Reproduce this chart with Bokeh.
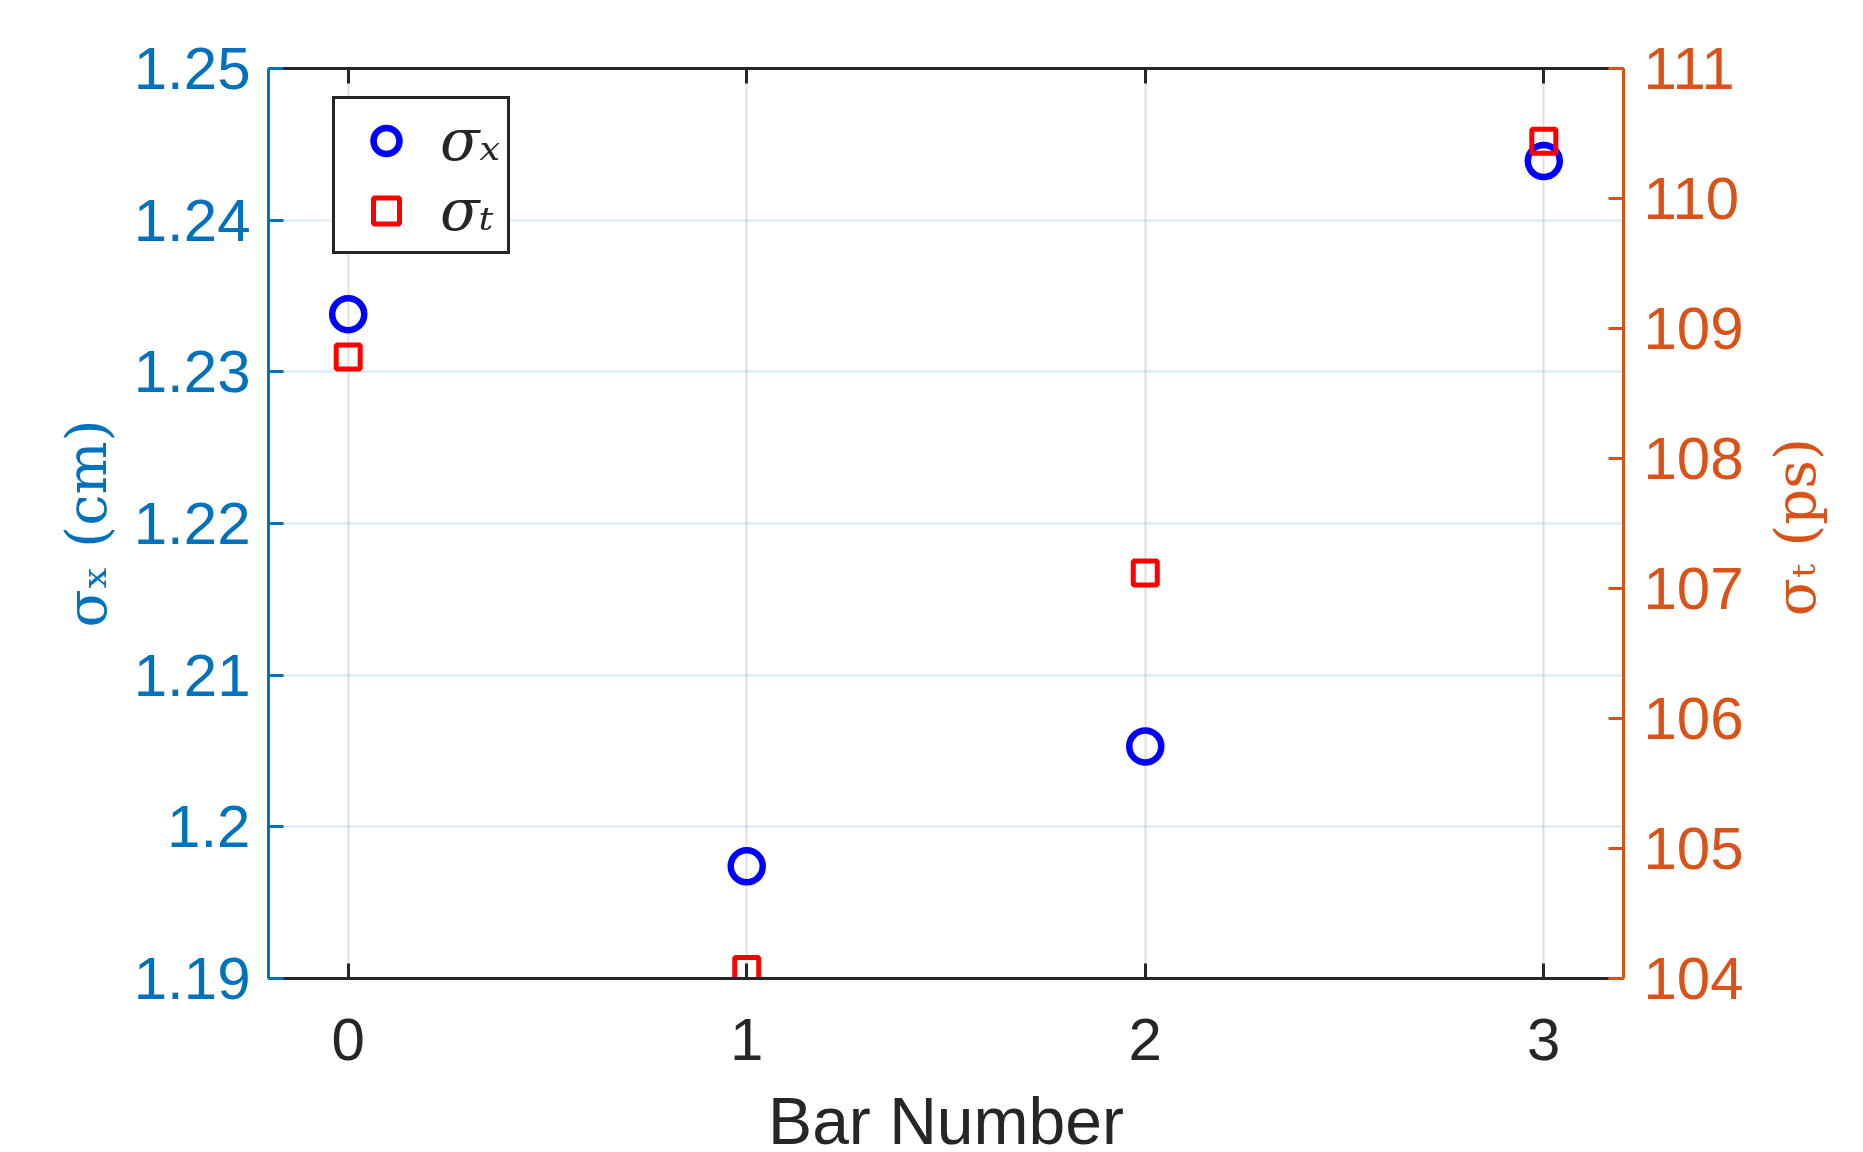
import math
from bokeh.plotting import figure
from bokeh.layouts import row, column
from bokeh.models import (Range1d, LinearAxis, FixedTicker, CustomJSTickFormatter,
                          Legend, LegendItem, ColumnDataSource, Label)
from bokeh.embed import file_html
from bokeh.resources import INLINE

# ---- data ----
bar_number = [0, 1, 2, 3]
sigma_x = [1.2338, 1.1974, 1.2053, 1.2439]     # cm
sigma_t = [108.78, 104.07, 107.12, 110.44]     # ps
x_ticks = [0, 1, 2, 3]
left_ticks = [1.19, 1.20, 1.21, 1.22, 1.23, 1.24, 1.25]
right_ticks = [104, 105, 106, 107, 108, 109, 110, 111]

BLUE_AX = "#0072BD"
ORANGE_AX = "#D95319"
DARK = "#262626"
TICK_FONT = "Liberation Sans"

TOTAL_W, TOTAL_H = 1860, 1150
MAIN_W, MAIN_H = 1752, 1083

src = ColumnDataSource(dict(x=bar_number, sx=sigma_x, st=sigma_t))

p = figure(width=MAIN_W, height=MAIN_H, output_backend="svg", toolbar_location=None,
           x_range=Range1d(-0.2, 3.2), y_range=Range1d(1.19, 1.25),
           min_border_left=268, min_border_right=MAIN_W - 268 - 1355, min_border_top=68,
           min_border_bottom=MAIN_H - 68 - 910, background_fill_color="white",
           border_fill_color="white")
p.outline_line_color = None
p.extra_y_ranges = {"right": Range1d(104, 111)}

# grids
p.xgrid.ticker = FixedTicker(ticks=x_ticks)
p.xgrid.grid_line_color = DARK
p.xgrid.grid_line_alpha = 0.15
p.xgrid.grid_line_width = 2
p.ygrid.ticker = FixedTicker(ticks=left_ticks)
p.ygrid.grid_line_color = BLUE_AX
p.ygrid.grid_line_alpha = 0.15
p.ygrid.grid_line_width = 2


def style_axis(ax, color):
    ax.axis_line_color = color
    ax.axis_line_width = 3
    ax.major_tick_line_color = color
    ax.major_tick_line_width = 3
    ax.major_tick_in = 15
    ax.major_tick_out = 0
    ax.minor_tick_line_color = None
    ax.major_label_text_color = color
    ax.major_label_text_font = TICK_FONT
    ax.major_label_text_font_size = "60px"
    ax.axis_label_text_color = color

# bottom axis
xa = p.xaxis[0]
xa.ticker = FixedTicker(ticks=x_ticks)
style_axis(xa, DARK)
xa.major_label_standoff = 40

# left axis
ya = p.yaxis[0]
ya.ticker = FixedTicker(ticks=left_ticks)
ya.formatter = CustomJSTickFormatter(code="return parseFloat(tick.toFixed(2)).toString();")
style_axis(ya, BLUE_AX)
ya.major_label_standoff = 18
ya.axis_label = "σₓ (cm)"
ya.axis_label_text_font = "DejaVu Serif"
ya.axis_label_text_font_size = "56px"
ya.axis_label_text_font_style = "normal"
ya.axis_label_standoff = 12

# right axis
ra = LinearAxis(y_range_name="right", ticker=FixedTicker(ticks=right_ticks))
style_axis(ra, ORANGE_AX)
ra.major_label_standoff = 20
p.add_layout(ra, "right")

# top axis (box)
ta = LinearAxis(ticker=FixedTicker(ticks=x_ticks))
style_axis(ta, DARK)
ta.major_label_text_font_size = "0px"
ta.major_label_text_color = None
p.add_layout(ta, "above")

# data
r1 = p.scatter("x", "sx", source=src, marker="circle", size=32, fill_color=None,
               line_color="#0000FF", line_width=6.5)
r2 = p.scatter("x", "st", source=src, marker="square", size=24, fill_color=None,
               line_color="#FF0000", line_width=5, y_range_name="right")

legend = Legend(items=[LegendItem(label="σₓ", renderers=[r1]),
                       LegendItem(label="σₜ", renderers=[r2])],
                location=(64, 724))
legend.glyph_width = 88
legend.glyph_height = 65
legend.spacing = 2
legend.padding = 7
legend.margin = 0
legend.label_standoff = 10
legend.label_text_font = "DejaVu Serif"
legend.label_text_font_style = "italic"
legend.label_text_font_size = "58px"
legend.label_text_color = DARK
legend.border_line_color = DARK
legend.border_line_alpha = 1
legend.border_line_width = 3
legend.background_fill_color = "white"
legend.background_fill_alpha = 1
p.add_layout(legend, "center")


def blank_fig(w, h):
    f = figure(width=w, height=h, output_backend="svg", toolbar_location=None,
               x_range=Range1d(0, w), y_range=Range1d(0, h), min_border=0,
               x_axis_type=None, y_axis_type=None,
               background_fill_color="white", border_fill_color="white")
    f.outline_line_color = None
    f.grid.visible = False
    return f

# right-hand axis title (reads bottom-to-top, like the reference)
rw = TOTAL_W - MAIN_W
rf = blank_fig(rw, MAIN_H)
rf.add_layout(Label(x=43, y=537, text="σₜ (ps)", angle=math.pi / 2,
                    text_align="center", text_baseline="middle",
                    text_font="DejaVu Serif", text_font_size="56px",
                    text_color=ORANGE_AX))

# bottom axis title
bh = TOTAL_H - MAIN_H
bf = blank_fig(TOTAL_W, bh)
bf.add_layout(Label(x=(268 + 268 + 1355) / 2, y=30, text="Bar Number",
                    text_align="center", text_baseline="alphabetic",
                    text_font=TICK_FONT, text_font_size="66px", text_color=DARK))

layout = column(row(p, rf), bf)
open("out.html", "w").write(file_html(layout, INLINE))
